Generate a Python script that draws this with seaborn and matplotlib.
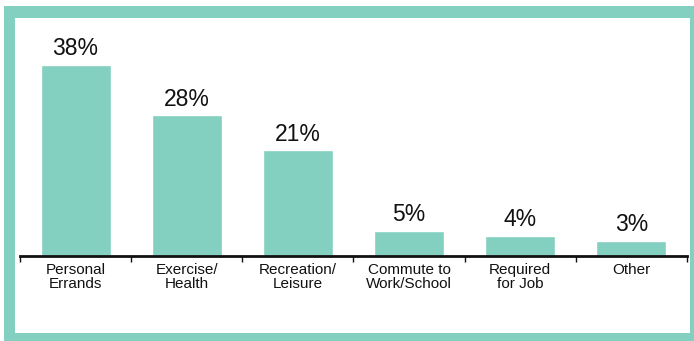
import matplotlib
matplotlib.use("Agg")
import matplotlib.pyplot as plt
import seaborn as sns
import pandas as pd
from matplotlib.patches import Rectangle
from matplotlib.ticker import FixedLocator
from matplotlib import font_manager

categories = ["Personal\nErrands", "Exercise/\nHealth", "Recreation/\nLeisure",
              "Commute to\nWork/School", "Required\nfor Job", "Other"]
values = [38, 28, 21, 5, 4, 3]
value_labels = ["38%", "28%", "21%", "5%", "4%", "3%"]

sns.set_style("white")
names = {f.name for f in font_manager.fontManager.ttflist}
main = "Liberation Sans Narrow" if "Liberation Sans Narrow" in names else "Liberation Sans"
narrow = main == "Liberation Sans Narrow"
plt.rcParams["font.family"] = [main, "DejaVu Sans"]

TEAL = "#83CFC0"
W, H = 694, 341
fig = plt.figure(figsize=(W / 100, H / 100), dpi=100)

# frame
fig.patches.append(Rectangle((4 / W, 0), 1, 1 - 6 / H, transform=fig.transFigure,
                             facecolor=TEAL, edgecolor="none", zorder=-10))
fig.patches.append(Rectangle((15 / W, (H - 333) / H), (690 - 15) / W, (333 - 18) / H,
                             transform=fig.transFigure, facecolor="white",
                             edgecolor="none", zorder=-9))

ax_left, ax_right = 20, 687
base, top = 256, 18
ax = fig.add_axes([ax_left / W, (H - base) / H, (ax_right - ax_left) / W, (base - top) / H])
ax.patch.set_alpha(0)

df = pd.DataFrame({"cat": categories, "val": values})
sns.barplot(data=df, x="cat", y="val", color=TEAL, saturation=1, width=0.63, ax=ax)

ax.set_xlim(-0.5, len(categories) - 0.5)
ax.set_ylim(0, (base - top) / 5.03)
vsize = 18.5 if narrow else 16.5
for i, (v, lab) in enumerate(zip(values, value_labels)):
    ax.text(i, v + 0.9, lab, ha="center", va="bottom", fontsize=vsize, color="#111111")

for s in ["top", "right", "left"]:
    ax.spines[s].set_visible(False)
ax.spines["bottom"].set_linewidth(2)
ax.spines["bottom"].set_color("#111111")
ax.set_yticks([])
ax.set_xlabel("")
ax.set_ylabel("")
ax.tick_params(axis="x", which="major", bottom=False, length=0, pad=5,
               labelsize=13 if narrow else 11, labelcolor="#111111")
ax.xaxis.set_minor_locator(FixedLocator([i - 0.5 for i in range(len(categories) + 1)]))
ax.tick_params(axis="x", which="minor", bottom=True, length=4, width=1,
               color="#111111", direction="out")
for t in ax.get_xticklabels():
    t.set_linespacing(1.02)

fig.savefig("out.png", dpi=100)
